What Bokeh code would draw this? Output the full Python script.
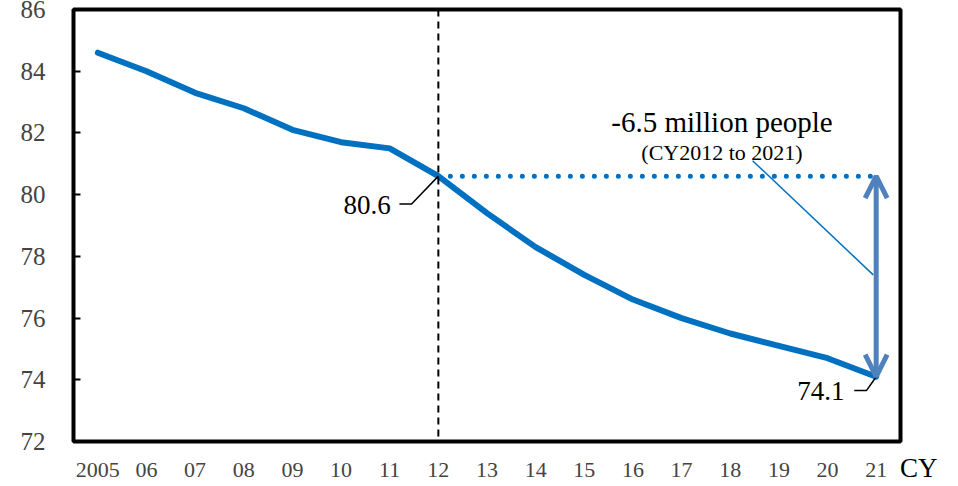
from bokeh.plotting import figure
from bokeh.models import (Range1d, FixedTicker, Span, Arrow, OpenHead, Label,
                          Title)
from bokeh.embed import file_html
from bokeh.resources import INLINE

years = list(range(2005, 2022))
year_labels = ["2005", "06", "07", "08", "09", "10", "11", "12", "13", "14",
               "15", "16", "17", "18", "19", "20", "21"]
population = [84.6, 84.0, 83.3, 82.8, 82.1, 81.7, 81.5, 80.6, 79.4, 78.3,
              77.4, 76.6, 76.0, 75.5, 75.1, 74.7, 74.1]
y_ticks = [72, 74, 76, 78, 80, 82, 84, 86]
x_unit = "CY"
start_year, end_year = 2012, 2021
start_val = population[years.index(start_year)]
end_val = population[years.index(end_year)]

FONT = "Liberation Serif"
AXFONT = "'Liberation Serif'"
BLUE = "#0070C0"
ARROW = "#4F81BD"

p = figure(width=948, height=484, output_backend="svg", toolbar_location=None,
           x_range=Range1d(2004.5, 2021.5), y_range=Range1d(72, 86),
           min_border_left=73, min_border_right=48, min_border_top=9,
           min_border_bottom=43)
p.background_fill_color = "white"
p.border_fill_color = "white"
p.outline_line_color = "black"
p.outline_line_width = 4
p.grid.visible = False

p.yaxis.ticker = FixedTicker(ticks=y_ticks)
p.yaxis.major_tick_in = 7
p.yaxis.major_tick_out = 0
p.yaxis.major_tick_line_width = 2
p.yaxis.minor_tick_line_color = None
p.yaxis.axis_line_color = None
p.yaxis.major_label_text_font = AXFONT
p.yaxis.major_label_text_font_size = "25px"
p.yaxis.major_label_standoff = 28

p.xaxis.ticker = FixedTicker(ticks=years)
p.xaxis.major_tick_line_color = None
p.xaxis.minor_tick_line_color = None
p.xaxis.axis_line_color = None
p.xaxis.major_label_text_font = AXFONT
p.xaxis.major_label_text_font_size = "22px"
p.xaxis.major_label_standoff = 15

overrides = {y: l for y, l in zip(years, year_labels)}
try:
    cy = Title(text=x_unit, align="right", offset=-37, standoff=-54,
               vertical_align="top", text_font=FONT, text_font_size="27px",
               text_font_style="normal", text_color="black")
    p.add_layout(cy, "below")
except Exception:
    overrides[years[-1]] = "\u2007\u2007\u2007\u2007" + year_labels[-1] + " " + x_unit
p.xaxis.major_label_overrides = overrides

# vertical dashed line at 2012
p.add_layout(Span(location=start_year, dimension="height", line_color="black",
                  line_width=2, line_dash="7 5"))

# dotted horizontal line at 2012 level
p.line([start_year, end_year], [start_val, start_val], line_color=BLUE,
       line_width=5, line_dash="0 12", line_cap="round")

# main series
p.line(years, population, line_color=BLUE, line_width=6, line_cap="round",
       line_join="round")

# double arrow
p.add_layout(Arrow(x_start=end_year, y_start=start_val, x_end=end_year,
                   y_end=end_val, line_color=ARROW, line_width=5,
                   start=OpenHead(size=22, line_color=ARROW, line_width=5),
                   end=OpenHead(size=22, line_color=ARROW, line_width=5)))

# thin leader from text to arrow
p.line([2018.46, 2020.94], [81.1, 77.4], line_color=BLUE, line_width=1.5)

# annotation texts
p.add_layout(Label(x=2017.83, y=82.36, text="-6.5 million people",
                   text_font=FONT, text_font_size="29px", text_align="center",
                   text_baseline="middle", text_color="black"))
p.add_layout(Label(x=2017.83, y=81.35, text="(CY2012 to 2021)",
                   text_font=FONT, text_font_size="22px", text_align="center",
                   text_baseline="middle", text_color="black"))

# value labels with leaders
p.line([start_year - 0.8, start_year - 0.55, start_year],
       [start_val - 0.9, start_val - 0.9, start_val], line_color="black",
       line_width=1.5)
p.add_layout(Label(x=start_year - 0.98, y=start_val - 0.93, text="80.6",
                   text_font=FONT, text_font_size="27px", text_align="right",
                   text_baseline="middle", text_color="black"))
p.line([end_year - 0.45, end_year - 0.2, end_year],
       [end_val - 0.45, end_val - 0.45, end_val], line_color="black",
       line_width=1.5)
p.add_layout(Label(x=end_year - 0.65, y=end_val - 0.45, text="74.1",
                   text_font=FONT, text_font_size="27px", text_align="right",
                   text_baseline="middle", text_color="black"))

open("out.html", "w").write(file_html(p, INLINE))
